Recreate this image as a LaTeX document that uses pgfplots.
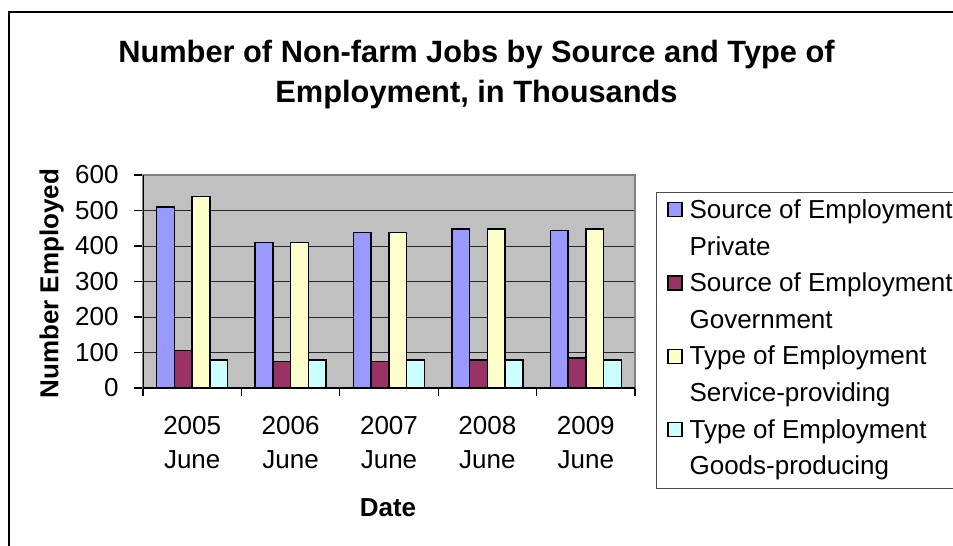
\documentclass[border=0pt]{standalone}
\usepackage{fontspec}
\setmainfont{Liberation Sans}
\usepackage{pgfplots}
\pgfplotsset{compat=1.18}
\definecolor{cPriv}{HTML}{9999FF}
\definecolor{cGov}{HTML}{993366}
\definecolor{cServ}{HTML}{FFFFCC}
\definecolor{cGoods}{HTML}{CCFFFF}
\definecolor{plotbg}{HTML}{C0C0C0}
\pgfplotsset{
  mybar/.style={ybar, bar width=8.875pt, bar shift=#1, draw=black, line width=0.75pt,
    legend image code/.code={\draw[##1, line width=0.6pt] (0pt,0.8pt) rectangle (7pt,7.8pt);}},
}
\begin{document}
\begin{tikzpicture}
\begin{axis}[
  at={(71.5pt,-194pt)}, anchor=south west,
  scale only axis, width=246pt, height=106.5pt,
  xmin=-0.5, xmax=4.5, ymin=0, ymax=600,
  axis line style={gray, line width=0.6pt},
  axis background/.style={fill=plotbg},
  tick pos=left,
  ytick={0,100,...,600},
  ymajorgrids, major grid style={black!85, line width=0.5pt},
  xtick={0,1,2,3,4},
  xticklabels={{2005\\June},{2006\\June},{2007\\June},{2008\\June},{2009\\June}},
  major x tick style={draw=none},
  minor xtick={-0.5,0.5,1.5,2.5,3.5,4.5},
  tick align=outside, major tick length=4.5pt, minor tick length=4pt,
  tick style={black, line width=0.6pt},
  /pgf/number format/assume math mode=true,
  yticklabel style={font=\fontsize{13}{15}\selectfont, inner sep=0pt, anchor=east, xshift=-7.5pt},
  xticklabel style={font=\fontsize{13}{17.15}\selectfont, align=center, inner sep=0pt, anchor=north, yshift=-9.5pt},
  ylabel={Number Employed},
  ylabel style={font=\fontsize{13}{15}\selectfont\bfseries, at={(axis description cs:-0.1856,0.49)}, anchor=center},
  xlabel={Date},
  xlabel style={font=\fontsize{13}{15}\selectfont\bfseries, at={(axis description cs:0.498,-0.601)}, anchor=base},
  legend style={
    name=leg,
    at={(1.0427,0.9202)}, anchor=north west,
    draw=none, fill=white,
    inner xsep=5.5pt, inner ysep=3.5pt,
    font=\fontsize{13}{15.6}\selectfont,
    row sep=5.8pt, column sep=3.5pt,
    nodes={inner sep=0pt, text height=9.5pt, text depth=3pt, anchor=base west},
  },
]
\addplot[mybar=-13.3125pt, fill=cPriv] coordinates {(0,510) (1,410) (2,438) (3,448) (4,443)};
\addlegendentry{Source of Employment}
\addlegendimage{empty legend}
\addlegendentry{Private}
\addplot[mybar=-4.4375pt, fill=cGov] coordinates {(0,106) (1,74) (2,74) (3,79) (4,84)};
\addlegendentry{Source of Employment}
\addlegendimage{empty legend}
\addlegendentry{Government}
\addplot[mybar=4.4375pt, fill=cServ] coordinates {(0,539) (1,410) (2,438) (3,448) (4,448)};
\addlegendentry{Type of Employment}
\addlegendimage{empty legend}
\addlegendentry{Service-providing}
\addplot[mybar=13.3125pt, fill=cGoods] coordinates {(0,79) (1,79) (2,79) (3,79) (4,79)};
\addlegendentry{Type of Employment}
\addlegendimage{empty legend}
\addlegendentry{Goods-producing}
\draw[black, line width=0.6pt] (rel axis cs:0,1) -- (rel axis cs:0,0) -- (rel axis cs:1,0);
\end{axis}
\draw[black!70, line width=0.5pt] ([xshift=40pt]leg.north east) -- (leg.north west) -- (leg.south west) -- ([xshift=40pt]leg.south east);
\node[font={\fontsize{15.4}{19}\selectfont\bfseries}, anchor=base] at (238.25pt,-31pt) {Number of Non-farm Jobs by Source and Type of};
\node[font={\fontsize{15.4}{19}\selectfont\bfseries}, anchor=base] at (238.25pt,-51pt) {Employment, in Thousands};
\draw[line width=1pt] (4.5pt,-290pt) -- (4.5pt,-6pt) -- (490pt,-6pt);
\pgfresetboundingbox
\useasboundingbox (0,0) rectangle (476.5pt,-273pt);
\end{tikzpicture}
\end{document}
